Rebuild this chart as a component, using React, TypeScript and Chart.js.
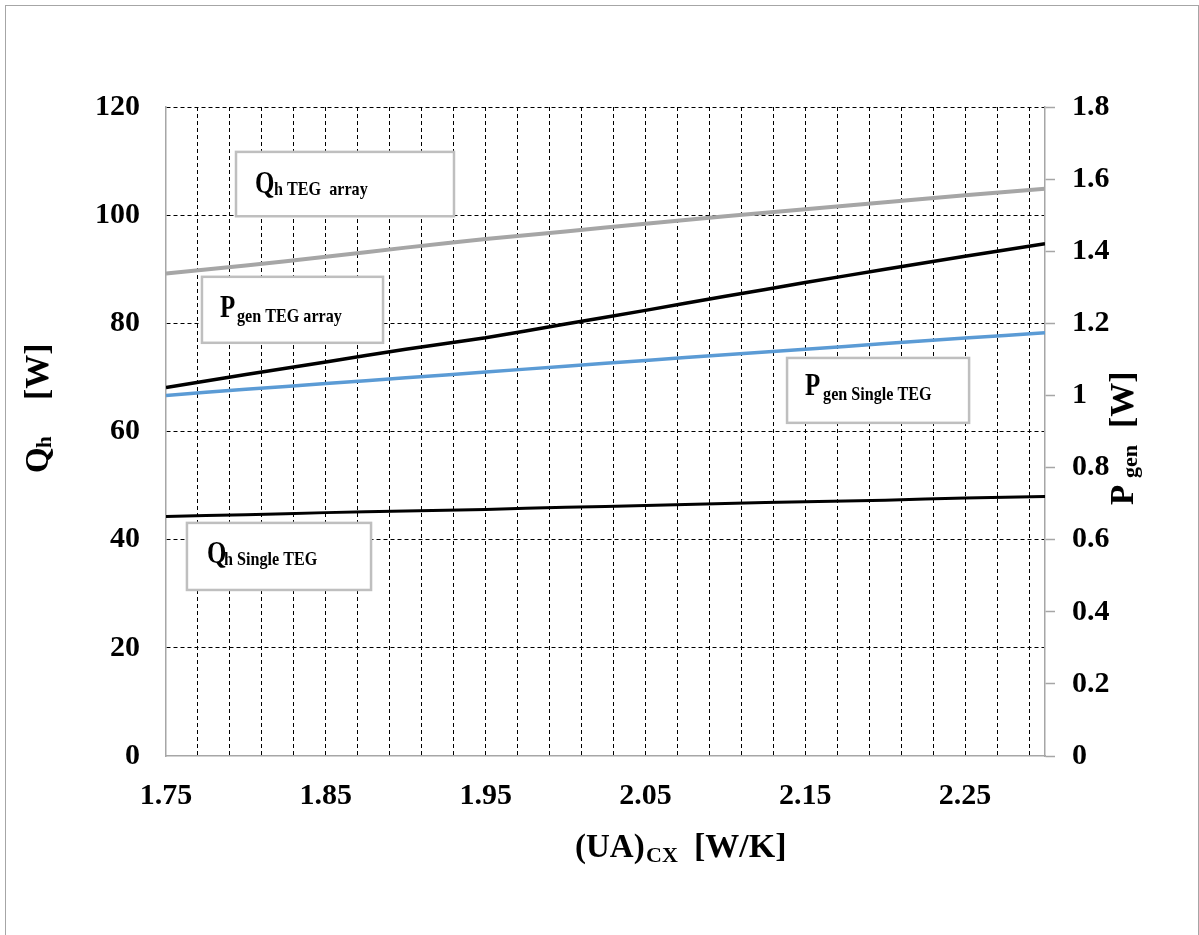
import React, { useEffect, useRef } from "react";
import { Chart, registerables } from "chart.js";

Chart.register(...registerables);

// (UA)_CX values in W/K
const uaValues = [1.75, 1.8, 1.85, 1.9, 1.95, 2.0, 2.05, 2.1, 2.15, 2.2, 2.25, 2.3];

// Heat input Q_h [W]
const qhTegArray = [89.2, 90.7, 92.3, 94.0, 95.6, 97.0, 98.4, 99.8, 101.1, 102.4, 103.7, 104.9];
const qhSingleTeg = [44.3, 44.6, 45.0, 45.3, 45.6, 46.0, 46.3, 46.7, 47.0, 47.3, 47.7, 48.0];

// Generated power P_gen [W]
const pgenTegArray = [1.022, 1.058, 1.093, 1.128, 1.16, 1.198, 1.236, 1.275, 1.313, 1.35, 1.386, 1.421];
const pgenSingleTeg = [1.0, 1.017, 1.033, 1.049, 1.065, 1.081, 1.097, 1.113, 1.128, 1.144, 1.159, 1.174];

// Axis ranges and tick spacing
const xMin = 1.75;
const xMax = 2.3;
const xGridStep = 0.02;
const xLabelTicks = [1.75, 1.85, 1.95, 2.05, 2.15, 2.25];
const qhMin = 0;
const qhMax = 120;
const qhStep = 20;
const pgenMin = 0;
const pgenMax = 1.8;
const pgenStep = 0.2;

// Series labels (main letter + subscript)
const seriesLabels = [
  { main: "Q", sub: "h TEG  array" },
  { main: "P", sub: "gen TEG array" },
  { main: "P", sub: "gen Single TEG" },
  { main: "Q", sub: "h Single TEG" },
];

const FONT = '"Liberation Serif", "Times New Roman", serif';

// Label boxes, placed in data units (x axis / left axis)
const labelBoxes = [
  { x0: 1.7938, x1: 1.9302, yTop: 111.7, yBottom: 99.8, mainDx: 19, mainDy: 41, subDx: 38, subDy: 43 },
  { x0: 1.7725, x1: 1.8858, yTop: 88.6, yBottom: 76.4, mainDx: 18, mainDy: 40, subDx: 35, subDy: 45 },
  { x0: 2.1386, x1: 2.2525, yTop: 73.6, yBottom: 61.6, mainDx: 18, mainDy: 37, subDx: 36, subDy: 42 },
  { x0: 1.7631, x1: 1.8783, yTop: 43.1, yBottom: 30.7, mainDx: 20, mainDy: 40, subDx: 37, subDy: 42 },
];

type Seg = { text: string; size: number; dx: number; dy: number; sx?: number };

function drawRich(ctx: CanvasRenderingContext2D, x: number, y: number, rot: number, segs: Seg[]) {
  ctx.save();
  ctx.translate(x, y);
  ctx.rotate(rot);
  ctx.fillStyle = "#000";
  ctx.textBaseline = "alphabetic";
  ctx.textAlign = "left";
  for (const s of segs) {
    ctx.save();
    ctx.translate(s.dx, s.dy);
    ctx.scale(s.sx ?? 1, 1);
    ctx.font = `bold ${s.size}px ${FONT}`;
    ctx.fillText(s.text, 0, 0);
    ctx.restore();
  }
  ctx.restore();
}

const framePlugin = {
  id: "frame",
  beforeDraw(chart: any) {
    const { ctx, width, height } = chart;
    ctx.save();
    ctx.fillStyle = "#ffffff";
    ctx.fillRect(0, 0, width, height);
    ctx.strokeStyle = "#a6a6a6";
    ctx.lineWidth = 1;
    ctx.strokeRect(5.5, 5.5, width - 6, height + 10);
    ctx.restore();
  },
};

const labelBoxPlugin = {
  id: "labelBoxes",
  afterDatasetsDraw(chart: any) {
    const { ctx } = chart;
    const xs = chart.scales.x;
    const ys = chart.scales.yQ;
    labelBoxes.forEach((b, i) => {
      const left = xs.getPixelForValue(b.x0);
      const right = xs.getPixelForValue(b.x1);
      const top = ys.getPixelForValue(b.yTop);
      const bottom = ys.getPixelForValue(b.yBottom);
      ctx.save();
      ctx.fillStyle = "#ffffff";
      ctx.fillRect(left, top, right - left, bottom - top);
      ctx.strokeStyle = "#bfbfbf";
      ctx.lineWidth = 2.5;
      ctx.strokeRect(left, top, right - left, bottom - top);
      ctx.restore();
      const lbl = seriesLabels[i];
      drawRich(ctx, left, top, 0, [
        { text: lbl.main, size: 32, dx: b.mainDx, dy: b.mainDy, sx: 0.78 },
        { text: lbl.sub, size: 19, dx: b.subDx, dy: b.subDy, sx: 0.85 },
      ]);
    });
  },
};

const axisTitlePlugin = {
  id: "axisTitles",
  afterDraw(chart: any) {
    const { ctx, chartArea } = chart;
    const cx = (chartArea.left + chartArea.right) / 2;
    // bottom title: (UA)_CX [W/K]
    drawRich(ctx, cx - 30.5, chartArea.bottom + 101, 0, [
      { text: "(UA)", size: 33, dx: 0, dy: 0 },
      { text: "CX", size: 22, dx: 71, dy: 5 },
      { text: "[W/K]", size: 34, dx: 119, dy: 0 },
    ]);
    // left title: Q_h [W]
    drawRich(ctx, chartArea.left - 118, chartArea.top + 366, -Math.PI / 2, [
      { text: "Q", size: 33, dx: 0, dy: 0 },
      { text: "h", size: 21, dx: 25, dy: 3 },
      { text: "[W]", size: 34, dx: 73, dy: 0 },
    ]);
    // right title: P_gen [W]
    drawRich(ctx, chartArea.right + 88, chartArea.top + 398, -Math.PI / 2, [
      { text: "P", size: 33, dx: 0, dy: 0 },
      { text: "gen", size: 22, dx: 27, dy: 4 },
      { text: "[W]", size: 34, dx: 77, dy: 0 },
    ]);
  },
};

const toPoints = (ys: number[]) => uaValues.map((x, i) => ({ x, y: ys[i] }));

const tickFont = { family: FONT, size: 30, weight: "bold" as const };
const axisGray = "#a6a6a6";
const clear = "rgba(0,0,0,0)";
const plainNumber = (v: any) => String(Number(Number(v).toFixed(2)));

export default function App() {
  const canvasRef = useRef<HTMLCanvasElement | null>(null);

  useEffect(() => {
    if (!canvasRef.current) return;
    const chart = new Chart(canvasRef.current, {
      type: "line",
      data: {
        datasets: [
          {
            label: "Qh TEG array",
            data: toPoints(qhTegArray),
            yAxisID: "yQ",
            borderColor: "#a6a6a6",
            borderWidth: 4,
            pointRadius: 0,
            tension: 0.2,
          },
          {
            label: "Pgen TEG array",
            data: toPoints(pgenTegArray),
            yAxisID: "yP",
            borderColor: "#000000",
            borderWidth: 3.5,
            pointRadius: 0,
            tension: 0.2,
          },
          {
            label: "Pgen Single TEG",
            data: toPoints(pgenSingleTeg),
            yAxisID: "yP",
            borderColor: "#5b9bd5",
            borderWidth: 3.5,
            pointRadius: 0,
            tension: 0.2,
          },
          {
            label: "Qh Single TEG",
            data: toPoints(qhSingleTeg),
            yAxisID: "yQ",
            borderColor: "#000000",
            borderWidth: 3,
            pointRadius: 0,
            tension: 0.2,
          },
        ],
      },
      options: {
        responsive: false,
        animation: false,
        devicePixelRatio: 1,
        layout: { padding: { top: 107, left: 0, right: 0, bottom: 0 } },
        plugins: {
          legend: { display: false },
          tooltip: { enabled: false },
          title: { display: false },
        },
        scales: {
          x: {
            type: "linear",
            position: "bottom",
            min: xMin,
            max: xMax,
            afterBuildTicks: (scale: any) => {
              const ticks: { value: number }[] = [];
              const n = Math.floor((xMax - xMin) / xGridStep + 1e-9);
              for (let k = 0; k <= n; k++) ticks.push({ value: +(xMin + k * xGridStep).toFixed(2) });
              if (ticks[ticks.length - 1].value < xMax - 1e-9) ticks.push({ value: xMax });
              scale.ticks = ticks;
            },
            afterFit: (scale: any) => {
              scale.height = 179;
            },
            ticks: {
              autoSkip: false,
              maxRotation: 0,
              minRotation: 0,
              padding: 22,
              color: "#000",
              font: tickFont,
              callback: (value: any) =>
                xLabelTicks.some((t) => Math.abs(t - Number(value)) < 1e-6) ? Number(value).toFixed(2) : "",
            },
            grid: {
              drawTicks: false,
              lineWidth: 1,
              color: (c: any) =>
                c.tick && (c.tick.value <= xMin + 1e-9 || c.tick.value >= xMax - 1e-9) ? clear : "#000",
            },
            border: { display: true, color: axisGray, width: 1.5, dash: [4, 3] },
          },
          yQ: {
            type: "linear",
            position: "left",
            min: qhMin,
            max: qhMax,
            afterFit: (scale: any) => {
              scale.width = 166;
            },
            ticks: { stepSize: qhStep, padding: 26, color: "#000", font: tickFont, callback: plainNumber },
            grid: {
              drawTicks: false,
              lineWidth: 1,
              color: (c: any) => (c.tick && c.tick.value <= qhMin ? clear : "#000"),
            },
            border: { display: true, color: axisGray, width: 1.5, dash: [4, 3] },
          },
          yP: {
            type: "linear",
            position: "right",
            min: pgenMin,
            max: pgenMax,
            afterFit: (scale: any) => {
              scale.width = 154;
            },
            ticks: { stepSize: pgenStep, padding: 17, color: "#000", font: tickFont, callback: plainNumber },
            grid: {
              drawOnChartArea: false,
              drawTicks: true,
              tickLength: 10,
              color: axisGray,
              tickColor: axisGray,
              tickWidth: 1.5,
            },
            border: { display: true, color: axisGray, width: 1.5 },
          },
        },
      },
      plugins: [framePlugin, labelBoxPlugin, axisTitlePlugin],
    } as any);
    return () => chart.destroy();
  }, []);

  return (
    <div style={{ position: "fixed", left: 0, top: 0, width: 1199, height: 935, background: "#fff" }}>
      <canvas ref={canvasRef} width={1199} height={935} style={{ display: "block", width: 1199, height: 935 }} />
    </div>
  );
}
